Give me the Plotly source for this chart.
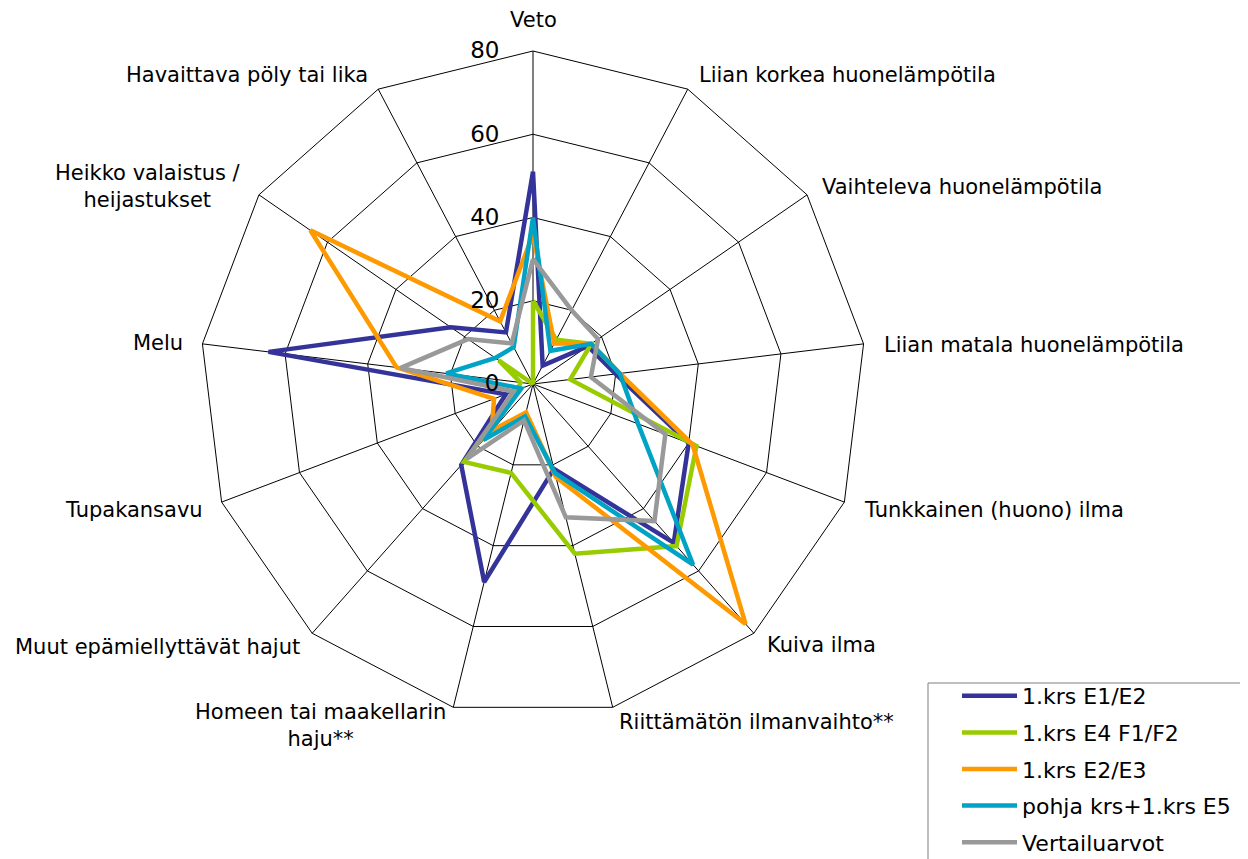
import math
import plotly.graph_objects as go

categories = [
    "Veto",
    "Liian korkea huonelämpötila",
    "Vaihteleva huonelämpötila",
    "Liian matala huonelämpötila",
    "Tunkkainen (huono) ilma",
    "Kuiva ilma",
    "Riittämätön ilmanvaihto**",
    "Homeen tai maakellarin<br>haju**",
    "Muut epämiellyttävät hajut",
    "Tupakansavu",
    "Melu",
    "Heikko valaistus /<br>heijastukset",
    "Havaittava pöly tai lika",
]

series_names = [
    "1.krs E1/E2",
    "1.krs E4 F1/F2",
    "1.krs E2/E3",
    "pohja krs+1.krs E5",
    "Vertailuarvot",
]

e1_e2 = [51, 5, 16, 20, 40, 51, 21, 49, 26, 7, 64, 24, 14]
e4_f1_f2 = [20, 12, 17, 9, 42, 52, 42, 22, 25, 4, 3, 10, 0]
e2_e3 = [36, 11, 17, 21, 41, 77, 23, 7, 15, 10, 33, 65, 17]
pohja_e5 = [40, 9, 17, 21, 27, 58, 22, 8, 18, 3, 21, 11, 10]
vertailu = [30, 20, 19, 14, 34, 44, 33, 9, 24, 5, 32, 19, 11]

radial_ticks = [0, 20, 40, 60, 80]

colors = ["#333399", "#99CC00", "#FF9900", "#00A3C4", "#999999"]
all_values = [e1_e2, e4_f1_f2, e2_e3, pohja_e5, vertailu]

# label placement (style only): offset from the polygon vertex in px, anchors
label_style = [
    (0, -30, "center", "middle"),
    (8, -13, "left", "middle"),
    (11, -8, "left", "middle"),
    (16, 0, "left", "middle"),
    (16, 6, "left", "middle"),
    (10, 9, "left", "middle"),
    (4, 12, "left", "middle"),
    (-5, -12, "right", "top"),
    (-9, 11, "right", "middle"),
    (-15, 6, "right", "middle"),
    (-15, -2, "right", "middle"),
    (-14, -8, "right", "middle"),
    (-7, -13, "right", "middle"),
]

fig = go.Figure()
for i, (name, vals, col) in enumerate(zip(series_names, all_values, colors)):
    fig.add_trace(go.Scatterpolar(
        r=vals + vals[:1],
        theta=categories + categories[:1],
        mode="lines",
        name=name,
        legendgroup=f"g{i}",
        line=dict(color=col, width=4.5),
    ))

W, H = 1248, 859
BODY = 8  # default page margin of the html body
cx, cy, half = 525, 376, 333      # domain centre in paper px
scx, scy, R = cx + BODY, cy + 9, 335  # rendered centre on screen

annotations = []
n = len(categories)
for k, (lab, (dx, dy, xa, ya)) in enumerate(zip(categories, label_style)):
    a = math.radians(k * 360 / n)
    vx = scx + R * math.sin(a)
    vy = scy - R * math.cos(a)
    X, Y = vx + dx, vy + dy
    annotations.append(dict(
        text=lab, showarrow=False, xref="paper", yref="paper",
        x=(X - BODY) / W, y=1 - (Y - BODY) / H,
        xanchor=xa, yanchor=ya, align="center",
        font=dict(size=21, color="black", family="DejaVu Sans"),
    ))

fig.update_layout(
    width=W, height=H,
    margin=dict(l=0, r=0, t=0, b=0),
    paper_bgcolor="white",
    plot_bgcolor="white",
    font=dict(family="DejaVu Sans", size=21, color="black"),
    polar=dict(
        domain=dict(x=[(cx - half) / W, (cx + half) / W],
                    y=[(H - cy - half) / H, (H - cy + half) / H]),
        bgcolor="white",
        gridshape="linear",
        angularaxis=dict(
            direction="clockwise",
            rotation=90,
            type="category",
            categoryorder="array",
            categoryarray=categories,
            showline=True,
            linecolor="black",
            linewidth=1,
            gridcolor="black",
            gridwidth=1,
            ticks="",
            showticklabels=False,
        ),
        radialaxis=dict(
            range=[0, 80],
            tickvals=radial_ticks,
            angle=90,
            side="counterclockwise",
            tickangle=90,
            showline=False,
            gridcolor="black",
            gridwidth=1,
            ticks="outside",
            ticklen=25,
            tickcolor="rgba(0,0,0,0)",
            tickfont=dict(size=23, color="black"),
        ),
    ),
    legend=dict(
        x=949 / W, y=1 - 667 / H, xanchor="left", yanchor="top",
        borderwidth=0,
        bgcolor="rgba(0,0,0,0)",
        font=dict(size=22, color="black"),
        itemwidth=55,
        tracegroupgap=5,
    ),
    annotations=annotations,
    shapes=[dict(
        type="rect", xref="paper", yref="paper",
        x0=(928 - BODY) / W, x1=1.05, y0=-0.05, y1=1 - (683 - BODY) / H,
        line=dict(color="#7f7f7f", width=1), fillcolor="rgba(0,0,0,0)",
        layer="below",
    )],
)

fig.write_html("out.html")
